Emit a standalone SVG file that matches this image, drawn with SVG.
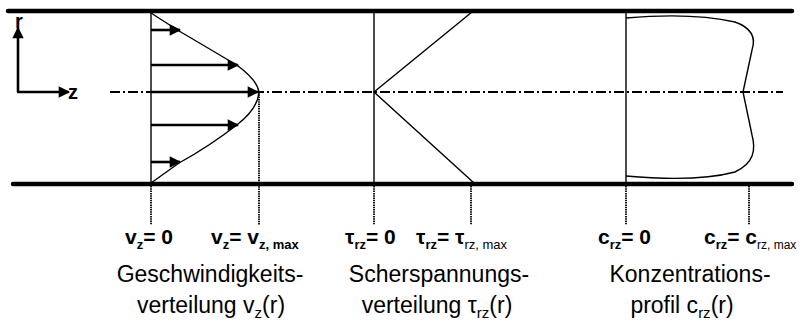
<svg xmlns="http://www.w3.org/2000/svg" width="803" height="324" viewBox="0 0 803 324">
<style>
.wall{stroke:#000;stroke-width:4.5;stroke-linecap:round;fill:none}
.thin{stroke:#000;stroke-width:1.4;fill:none}
.axis{stroke:#000;stroke-width:2.6;fill:none}
.center{stroke:#000;stroke-width:2;fill:none;stroke-dasharray:10 3 2 3}
.dot{stroke:#000;stroke-width:1.8;fill:none;stroke-dasharray:1.5 0.8}
.lb{font-family:"Liberation Sans",Arial,sans-serif;font-weight:bold;font-size:21px;fill:#000}
.sb{font-size:13px}
.sr{font-size:13px;font-weight:normal}
.tx{font-family:"Liberation Sans",Arial,sans-serif;font-size:23px;fill:#000;text-anchor:middle}
.ts{font-size:15px}
</style>
<defs>
<marker id="ah" viewBox="0 0 10 10" refX="9" refY="5" markerWidth="4.8" markerHeight="4.4" orient="auto" markerUnits="strokeWidth">
<path d="M0,0 L10,5 L0,10 z" fill="#000"/>
</marker>
</defs>
<g id="pipe">
<line class="wall" x1="8" y1="11" x2="792" y2="11"/>
<line class="wall" x1="13" y1="184" x2="792" y2="184"/>
<line class="center" x1="110" y1="92" x2="783" y2="92"/>
</g>
<g id="axes">
<line class="axis" x1="18" y1="92" x2="18" y2="28" marker-end="url(#ah)"/>
<line class="axis" x1="17" y1="92" x2="69" y2="92" marker-end="url(#ah)"/>
<text class="lb" x="15" y="28" style="font-size:20px">r</text>
<text class="lb" x="68" y="99" style="font-size:20px">z</text>
</g>
<g id="velocity">
<line class="thin" x1="151" y1="11" x2="151" y2="184"/>
<path class="thin" d="M151,13 L179,31 Q215,52 238,66 Q257,80 259,92 Q258,108 238,124 Q210,146 179,163 L151,183"/>
<line class="axis" x1="151" y1="30" x2="180" y2="30" marker-end="url(#ah)"/>
<line class="axis" x1="151" y1="65" x2="238" y2="65" marker-end="url(#ah)"/>
<line class="axis" x1="151" y1="92" x2="258" y2="92" marker-end="url(#ah)"/>
<line class="axis" x1="151" y1="125" x2="238" y2="125" marker-end="url(#ah)"/>
<line class="axis" x1="151" y1="162" x2="180" y2="162" marker-end="url(#ah)"/>
<line class="dot" x1="151" y1="186" x2="151" y2="225"/>
<line class="dot" x1="259" y1="92" x2="259" y2="225"/>
<text class="lb" x="125" y="244">v<tspan class="sb" dy="5">z</tspan><tspan dy="-5">= 0</tspan></text>
<text class="lb" x="211" y="244">v<tspan class="sb" dy="5">z</tspan><tspan dy="-5">= v</tspan><tspan class="sb" dy="5">z, max</tspan></text>
<text class="tx" x="210" y="282">Geschwindigkeits-</text>
<text class="tx" x="211" y="313">verteilung v<tspan class="ts" dy="5">z</tspan><tspan dy="-5">(r)</tspan></text>
</g>
<g id="shear">
<line class="thin" x1="374" y1="11" x2="374" y2="184"/>
<polyline class="thin" points="472,12 374,92 474,183"/>
<line class="dot" x1="374" y1="186" x2="374" y2="225"/>
<line class="dot" x1="471" y1="186" x2="471" y2="225"/>
<text class="lb" x="345" y="244">τ<tspan class="sb" dy="5">rz</tspan><tspan dy="-5">= 0</tspan></text>
<text class="lb" x="416" y="244">τ<tspan class="sb" dy="5">rz</tspan><tspan dy="-5">= τ</tspan><tspan class="sr" dy="5">rz, max</tspan></text>
<text class="tx" x="439" y="282">Scherspannungs-</text>
<text class="tx" x="437" y="313">verteilung τ<tspan class="ts" dy="5">rz</tspan><tspan dy="-5">(r)</tspan></text>
</g>
<g id="concentration">
<line class="thin" x1="626" y1="11" x2="626" y2="184"/>
<path class="thin" d="M626,18 C660,15 700,14 735,22 C752,28 756,38 752,50 L743,92 L752,135 C756,150 754,163 735,172 C705,180 660,179 626,176"/>
<line class="dot" x1="626" y1="186" x2="626" y2="225"/>
<line class="dot" x1="749" y1="186" x2="749" y2="225"/>
<text class="lb" x="598" y="244">c<tspan class="sb" dy="5">rz</tspan><tspan dy="-5">= 0</tspan></text>
<text class="lb" x="704" y="244">c<tspan class="sb" dy="5">rz</tspan><tspan dy="-5">= c</tspan><tspan class="sr" dy="5" style="font-size:12px">rz, max</tspan></text>
<text class="tx" x="690" y="282">Konzentrations-</text>
<text class="tx" x="682" y="313">profil c<tspan class="ts" dy="5">rz</tspan><tspan dy="-5">(r)</tspan></text>
</g>
</svg>
